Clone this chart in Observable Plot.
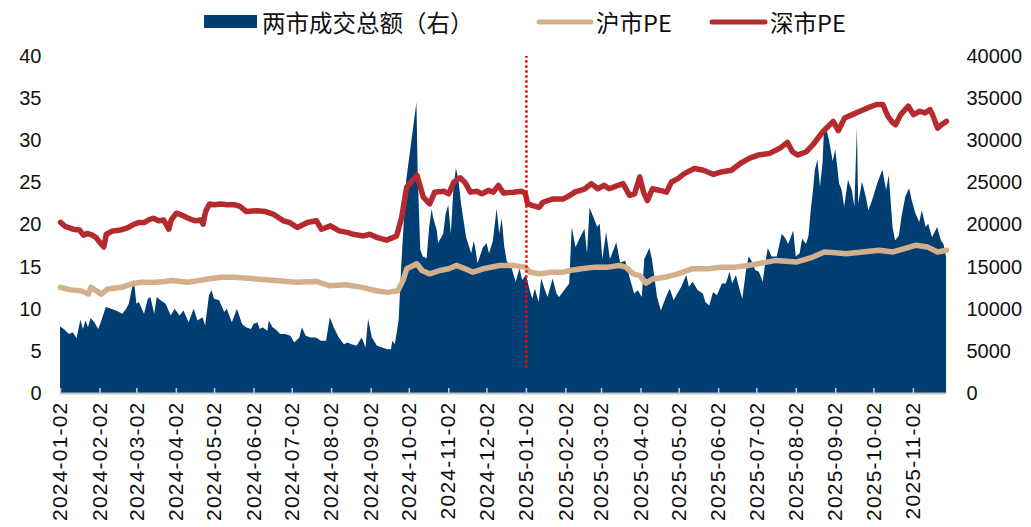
<!DOCTYPE html>
<html>
<head>
<meta charset="utf-8">
<script src="https://cdn.jsdelivr.net/npm/d3@7"></script>
<script src="https://cdn.jsdelivr.net/npm/@observablehq/plot@0.6"></script>
<style>
  html, body { margin: 0; padding: 0; background: #ffffff; }
  #legend, #chart svg { display: block; }
  #chart g[aria-label="x-axis tick label"] text { letter-spacing: 1.2px; }
</style>
</head>
<body>
<svg id="legend" width="1031" height="44"></svg>
<div id="chart"></div>
<script>
// ---------------- data ----------------
const startDate = "2024-01-02";           // day 0 of the day-offset arrays below

// 两市成交总额 (亿元), right axis — days since startDate
const amtDays = [0,3,7,10,13,16,18,20,22,24,27,30,32,36,40,44,49,52,54,58,60,62,66,69,71,74,76,79,83,87,90,94,97,101,105,108,112,114,117,119,121,125,129,131,135,139,143,146,150,152,155,157,159,163,164,167,169,173,177,181,184,188,190,193,197,201,205,209,212,215,219,223,226,229,233,237,240,242,245,249,253,257,260,261,263,266,268,272,280,281,283,285,288,290,292,293,296,297,301,303,305,307,309,311,313,315,319,323,325,326,328,332,335,337,340,343,345,347,349,351,354,358,361,363,366,369,371,373,376,378,381,383,387,390,392,396,400,402,405,408,410,412,414,416,419,422,424,426,429,432,437,440,444,448,451,454,457,459,463,465,469,472,476,479,482,488,492,494,497,501,505,507,510,513,516,520,523,526,528,531,534,536,539,541,544,546,549,552,554,556,559,563,567,570,572,576,578,581,583,586,588,590,591,593,595,597,599,600,602,604,607,609,612,614,616,619,622,624,626,627,630,633,635,638,642,646,649,651,654,656,659,661,664,667,669,672,675,677,680,682,685,689,692,694,696];
const amtValues = [7900,7600,7000,7200,6500,8700,7600,8600,7800,8900,8400,7600,8400,10200,10000,9800,9400,10000,10600,13500,10600,10800,9400,11200,11400,9400,11400,11000,10600,9200,10000,9200,9800,8400,10000,8600,9000,8000,11600,12200,11200,11000,9600,10000,8400,10000,8200,7800,7600,8200,8400,7600,7800,7400,8600,7800,7600,7000,7000,6800,6000,6600,7800,6800,6600,6600,6200,6200,9000,7800,6600,5800,6000,5800,5600,6600,5400,8800,6600,5600,5400,5200,5200,6200,5800,8600,15000,25300,34500,26000,17000,16200,16000,19700,21900,20900,19300,17800,18900,21300,22300,18900,24100,26700,25300,22500,18500,16600,18000,17400,15400,17200,17800,16600,18000,21900,18900,20700,17400,15600,15200,13200,14800,13400,14000,12200,11200,12400,10800,13600,12200,11400,13600,11800,11400,12200,13000,19700,17300,18300,18900,19500,16600,22000,20900,19700,20100,15900,19100,15900,17900,15500,15700,13400,11800,12200,11400,15900,17200,15900,11400,9800,11400,12400,11000,12600,14000,12600,13200,12200,11800,10800,10400,12000,11600,13000,13000,14400,13000,14000,12200,11200,14700,16200,15500,14600,14400,13200,15400,17200,16200,16200,18900,18300,17700,19300,16200,16600,18300,17700,18700,22100,23300,26500,27700,24500,27300,30700,31300,30100,27500,28900,24900,24100,22100,25300,24100,22100,31500,22500,25100,23300,21700,22900,24900,26500,24100,25900,19700,18100,18700,20900,23300,24300,22900,21300,20300,21700,19700,20100,18500,19700,18100,17700,16200];

// 沪市PE, left axis
const shDays = [0,8,16,22,24,27,32,37,48,56,63,74,82,88,100,108,116,126,137,154,169,185,201,211,224,237,248,257,265,269,272,280,284,290,298,305,311,318,324,332,345,356,365,369,377,385,395,400,409,420,430,439,444,450,455,460,465,475,485,496,509,519,530,540,548,562,578,591,600,609,617,630,643,654,663,672,681,689,696];
const shPE = [12.6,12.3,12.2,11.8,12.6,12.3,11.8,12.4,12.6,13.0,13.2,13.2,13.3,13.4,13.2,13.4,13.6,13.8,13.8,13.6,13.4,13.2,13.3,12.8,12.9,12.6,12.2,12.0,12.2,13.4,14.8,15.4,14.6,14.2,14.6,14.8,15.2,14.8,14.4,14.8,15.2,15.2,15.0,14.4,14.2,14.4,14.4,14.6,14.8,15.0,15.0,15.2,15.0,14.2,14.0,13.1,13.6,13.8,14.2,14.8,14.8,15.0,15.0,15.2,15.4,15.8,15.6,16.2,16.8,16.7,16.6,16.8,17.0,16.8,17.2,17.6,17.4,16.8,17.0];

// 深市PE, left axis
const szDays = [0,4,10,15,18,21,25,28,31,34,36,41,47,53,58,62,66,69,73,77,81,85,87,91,95,99,102,106,110,112,114,117,121,126,131,137,141,146,154,161,167,175,180,186,190,194,201,205,212,219,226,230,238,243,249,256,261,264,268,271,272,280,282,285,290,294,301,305,309,314,318,322,327,331,336,340,344,348,356,362,365,367,371,376,379,387,395,400,404,412,417,422,427,431,438,442,447,451,455,458,461,465,471,476,480,485,490,498,505,513,519,527,534,541,548,557,565,571,575,579,586,592,599,607,611,616,622,628,634,641,646,650,654,656,660,666,670,675,679,683,685,689,692,696];
const szPE = [20.3,19.8,19.5,19.4,18.8,19.0,18.8,18.5,17.9,17.4,18.9,19.3,19.4,19.7,20.1,20.3,20.3,20.6,20.8,20.5,20.6,19.5,20.6,21.4,21.2,20.9,20.7,20.5,20.6,20.1,21.6,22.5,22.4,22.5,22.4,22.4,22.2,21.6,21.7,21.6,21.3,20.5,20.3,19.7,20.0,20.3,20.5,19.5,19.9,19.3,19.1,18.9,18.7,18.9,18.5,18.2,18.5,18.7,20.9,23.7,24.5,25.9,24.9,23.3,22.5,23.9,24.0,23.7,25.1,25.6,25.0,23.9,24.0,23.7,24.1,23.9,24.7,23.8,23.9,24.0,23.8,22.5,22.3,22.1,22.7,23.1,23.1,23.5,23.9,24.3,24.9,24.3,24.7,24.3,24.7,24.9,23.5,23.7,25.7,23.9,22.9,24.3,24.1,23.9,25.1,25.5,26.1,26.7,26.5,26.0,26.3,26.5,27.3,27.9,28.3,28.5,29.1,29.8,28.7,28.3,28.7,29.7,31.1,32.3,31.2,32.7,33.1,33.5,33.9,34.3,34.3,32.9,32.1,31.9,33.1,34.1,33.1,33.5,33.3,33.7,33.1,31.5,31.9,32.3];

// axis ticks and labels
const xTickLabels = ["2024-01-02","2024-02-02","2024-03-02","2024-04-02","2024-05-02","2024-06-02","2024-07-02","2024-08-02","2024-09-02","2024-10-02","2024-11-02","2024-12-02","2025-01-02","2025-02-02","2025-03-02","2025-04-02","2025-05-02","2025-06-02","2025-07-02","2025-08-02","2025-09-02","2025-10-02","2025-11-02"];
const leftTicks = [0,5,10,15,20,25,30,35,40];
const rightTickLabels = ["0","5000","10000","15000","20000","25000","30000","35000","40000"];
const rightPerLeft = 1000;                 // 40000 (right) ↔ 40 (left)

// dotted divider
const dividerDate = "2025-01-02";
const dividerSpan = [3, 40];

// legend
const legendLabels = ["两市成交总额（右）", "沪市PE", "深市PE"];

// ---------------- styles ----------------
const NAVY = "#003e73";
const TAN = "#d3b08b";
const RED = "#b42a2e";
const FONT = "'Liberation Sans', Arial, Helvetica, sans-serif";

// ---------------- build ----------------
const start = new Date(startDate);
const toDate = n => d3.utcDay.offset(start, n);
const series = (days, vals) => days.map((n, i) => ({date: toDate(n), v: vals[i]})).filter(d => d.v != null);
const amt = series(amtDays, amtValues);
const sh = series(shDays, shPE);
const sz = series(szDays, szPE);
const xTicks = xTickLabels.map(s => new Date(s));
const labelByTime = new Map(xTicks.map((d, i) => [+d, xTickLabels[i]]));
const endDate = toDate(Math.max(amtDays[amtDays.length - 1], shDays[shDays.length - 1], szDays[szDays.length - 1]));

// legend
const lg = d3.select("#legend");
lg.append("rect").attr("x", 204).attr("y", 15).attr("width", 53).attr("height", 13).attr("fill", NAVY);
lg.append("line").attr("x1", 539).attr("x2", 591).attr("y1", 22).attr("y2", 22)
  .attr("stroke", TAN).attr("stroke-width", 5).attr("stroke-linecap", "round");
lg.append("line").attr("x1", 712).attr("x2", 765).attr("y1", 22).attr("y2", 22)
  .attr("stroke", RED).attr("stroke-width", 5).attr("stroke-linecap", "round");
[[262, 0], [596, 1], [770, 2]].forEach(([x, i]) => {
  lg.append("text").attr("x", x).attr("y", 22)
    .attr("dominant-baseline", "central")
    .attr("font-family", "'Noto Sans CJK SC', 'Noto Sans', sans-serif")
    .attr("font-size", 23.5).attr("fill", "#111")
    .text(legendLabels[i]);
});

const chart = Plot.plot({
  width: 1031,
  height: 483,
  marginLeft: 60,
  marginRight: 85,
  marginTop: 12,
  marginBottom: 134,
  style: {fontFamily: FONT, fontSize: "20px", color: "#111", background: "transparent", overflow: "visible"},
  x: {type: "utc", domain: [start, endDate], axis: null},
  y: {domain: [0, 40], axis: null},
  marks: [
    Plot.areaY(amt, {x: "date", y: d => d.v / rightPerLeft, fill: NAVY, curve: "linear"}),
    Plot.tickX(xTicks, {x: d => d, stroke: "#c8ccd3", strokeWidth: 1.5, insetTop: 332}),
    Plot.ruleY([0], {stroke: "#bfc3ca", strokeWidth: 2}),
    Plot.line(sh, {x: "date", y: "v", stroke: TAN, strokeWidth: 5.5, strokeLinejoin: "round", strokeLinecap: "round"}),
    Plot.line(sz, {x: "date", y: "v", stroke: RED, strokeWidth: 5.5, strokeLinejoin: "round", strokeLinecap: "round"}),
    Plot.ruleX([new Date(dividerDate)], {x: d => d, y1: dividerSpan[0], y2: dividerSpan[1], stroke: "#ff0000", strokeWidth: 2.5, strokeDasharray: "2.5 2.5"}),
    Plot.axisY(leftTicks, {anchor: "left", tickSize: 0, tickPadding: 19, fontSize: 20, label: null}),
    Plot.axisY(leftTicks, {anchor: "right", tickSize: 0, tickPadding: 20, fontSize: 20, label: null,
      tickFormat: d => rightTickLabels[leftTicks.indexOf(d)]}),
    Plot.axisX(xTicks, {anchor: "bottom", tickSize: 0, tickPadding: 8, tickRotate: -90, fontSize: 21, label: null,
      tickFormat: d => labelByTime.get(+d)})
  ]
});
document.getElementById("chart").appendChild(chart);
</script>
</body>
</html>
